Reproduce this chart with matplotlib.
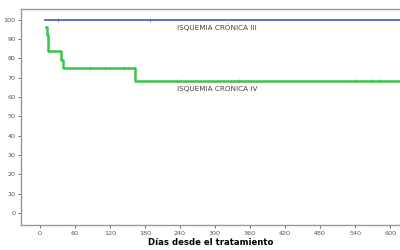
import matplotlib.pyplot as plt

# Kaplan-Meier steps (days, survival %)
iv_days = [10, 12, 14.5, 35.5, 40, 162, 620]
iv_surv = [96, 92, 83.7, 79, 74.8, 68.4, 68.4]
iv_cens_days = [86, 111, 144.5, 234, 341, 541, 569, 583]
iv_cens_surv = [74.8, 74.8, 74.8, 68.4, 68.4, 68.4, 68.4, 68.4]

iii_days = [9, 620]
iii_surv = [100, 100]
iii_cens_days = [30, 189]
iii_cens_surv = [100, 100]

xticks = [0, 60, 120, 180, 240, 300, 360, 420, 480, 540, 600]
yticks = [0, 10, 20, 30, 40, 50, 60, 70, 80, 90, 100]

fig = plt.figure(figsize=(4, 2.5), dpi=100)
ax = fig.add_axes([0.0525, 0.1, 0.9475, 0.864])

blue = '#5565c8'
green = '#3cc24a'

ax.plot(iii_days, iii_surv, color=blue, lw=1.3, drawstyle='steps-post')
ax.plot(iii_cens_days, iii_cens_surv, ls='none', marker='|', ms=3, mew=0.5, color=blue)
ax.plot(iv_days, iv_surv, color=green, lw=1.8, drawstyle='steps-post')
ax.plot(iv_cens_days, iv_cens_surv, ls='none', marker='|', ms=3, mew=0.5, color=green)

ax.text(234, 96.3, 'ISQUEMIA CRÓNICA III', fontsize=5.2, color='#444444', va='center')
ax.text(234, 64.6, 'ISQUEMIA CRÓNICA IV', fontsize=5.2, color='#444444', va='center')

ax.set_xlim(-32.6, 617)
ax.set_ylim(-6.2, 105.5)
ax.set_xticks(xticks)
ax.set_yticks(yticks)
ax.tick_params(labelsize=4.6, labelcolor='#555555', color='#555555', length=2.5, width=0.6, pad=1.5)
ax.set_xlabel('Días desde el tratamiento', fontsize=6.1, fontweight='bold', labelpad=2)

for s in ['left', 'bottom', 'top']:
    ax.spines[s].set_color('#999999')
    ax.spines[s].set_linewidth(1.0)
ax.spines['right'].set_visible(False)

fig.savefig('out.png', dpi=100)
